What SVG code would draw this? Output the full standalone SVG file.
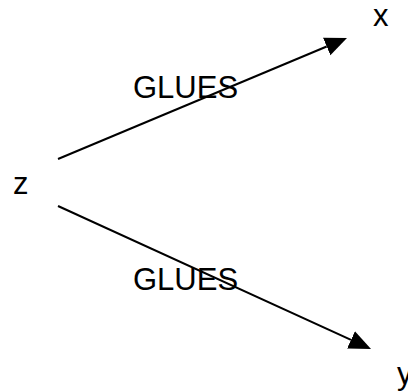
<svg xmlns="http://www.w3.org/2000/svg" width="408" height="392" viewBox="0 0 408 392">
<defs>
<style>
.lbl{font-family:"Liberation Sans",Arial,sans-serif;font-size:31px;fill:#000}
.edge{stroke:#000;stroke-width:2;fill:none}
</style>
<marker id="ah" markerUnits="userSpaceOnUse" markerWidth="24" markerHeight="22" viewBox="0 -11 24 22" refX="0" refY="0" orient="auto">
<path d="M0,-9.5 L22,0 L0,9.5 z" fill="#000"/>
</marker>
</defs>
<g id="connectors">
<g id="e1"><line class="edge" x1="58" y1="159" x2="326.7" y2="46.5" marker-end="url(#ah)"/>
<text class="lbl" x="133" y="98">GLUES</text></g>
<g id="e2"><line class="edge" x1="58" y1="206" x2="351" y2="339.9" marker-end="url(#ah)"/>
<text class="lbl" x="133" y="290">GLUES</text></g>
</g>
<g id="node-x"><text class="lbl" x="373" y="26">x</text></g>
<g id="node-z"><text class="lbl" x="13" y="194">z</text></g>
<g id="node-y"><text class="lbl" x="397" y="384">y</text></g>
</svg>
